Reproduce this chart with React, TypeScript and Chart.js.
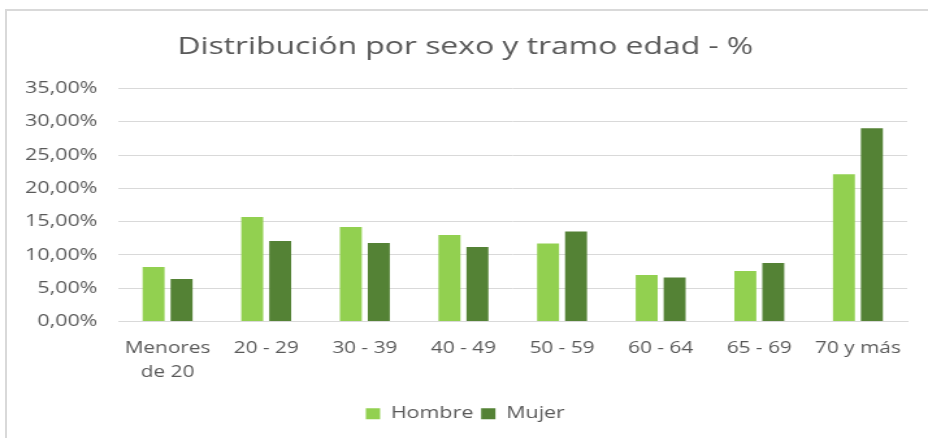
import React, { useEffect, useRef } from "react";
import { Chart, registerables } from "chart.js";

Chart.register(...registerables);

const categories: (string | string[])[] = [
  ["Menores", "de 20"],
  "20 - 29",
  "30 - 39",
  "40 - 49",
  "50 - 59",
  "60 - 64",
  "65 - 69",
  "70 y más",
];
const hombre = [8.2, 15.7, 14.2, 13.0, 11.7, 7.0, 7.6, 22.1];
const mujer = [6.4, 12.1, 11.8, 11.2, 13.5, 6.6, 8.8, 29.0];
const seriesNames = ["Hombre", "Mujer"];
const titleText = "Distribución por sexo y tramo edad - %";
const yMax = 35;
const yStep = 5;

const STRETCH = 1.3;
const W = 928;
const H = 438;
const IW = Math.round(W / STRETCH);

export default function App() {
  const ref = useRef<HTMLCanvasElement | null>(null);
  useEffect(() => {
    if (!ref.current) return;
    const gray = "#595959";
    const chart = new Chart(ref.current, {
      type: "bar",
      data: {
        labels: categories,
        datasets: [
          {
            label: seriesNames[0],
            data: hombre,
            backgroundColor: "#92D050",
            categoryPercentage: 0.567,
            barPercentage: 0.786,
          },
          {
            label: seriesNames[1],
            data: mujer,
            backgroundColor: "#548235",
            categoryPercentage: 0.567,
            barPercentage: 0.786,
          },
        ],
      },
      options: {
        responsive: false,
        animation: false,
        devicePixelRatio: 1,
        layout: { padding: { left: 18, right: 16, top: 0, bottom: 6 } },
        plugins: {
          title: {
            display: true,
            text: titleText,
            color: gray,
            font: { family: "'Open Sans', sans-serif", size: 24.5, weight: "normal" },
            padding: { top: 32, bottom: 27 },
          },
          legend: {
            display: true,
            position: "bottom",
            labels: {
              color: gray,
              font: { family: "'Open Sans', sans-serif", size: 16.5 },
              boxWidth: 11,
              boxHeight: 11,
              padding: 6,
            },
          },
          tooltip: { enabled: false },
        },
        scales: {
          x: {
            grid: { display: false, drawTicks: false },
            border: { display: true, color: "#d9d9d9" },
            ticks: {
              color: gray,
              font: { family: "'Open Sans', sans-serif", size: 16, lineHeight: 1.5 },
              padding: 15,
              maxRotation: 0,
              autoSkip: false,
            },
          },
          y: {
            min: 0,
            max: yMax,
            afterFit: (scale: any) => {
              scale.width = 73;
            },
            grid: { color: "#d9d9d9", drawTicks: false },
            border: { display: false },
            ticks: {
              stepSize: yStep,
              color: gray,
              padding: 16,
              font: { family: "'Open Sans', sans-serif", size: 16.5 },
              callback: (v: any) => Number(v).toFixed(2).replace(".", ",") + "%",
            },
          },
        },
      },
    });
    return () => chart.destroy();
  }, []);

  return (
    <div style={{ position: "absolute", left: 0, top: 0, width: W, height: H, overflow: "hidden", background: "#fff" }}>
      <div
        style={{
          position: "absolute",
          left: 5,
          top: 9,
          width: W,
          height: H,
          borderTop: "2px solid #d9d9d9",
          borderLeft: "2px solid #d9d9d9",
        }}
      />
      <div
        style={{
          position: "absolute",
          left: 0,
          top: 0,
          width: IW,
          height: H,
          transform: `scaleX(${W / IW})`,
          transformOrigin: "0 0",
        }}
      >
        <canvas ref={ref} width={IW} height={H} style={{ width: IW, height: H, display: "block" }} />
      </div>
    </div>
  );
}
